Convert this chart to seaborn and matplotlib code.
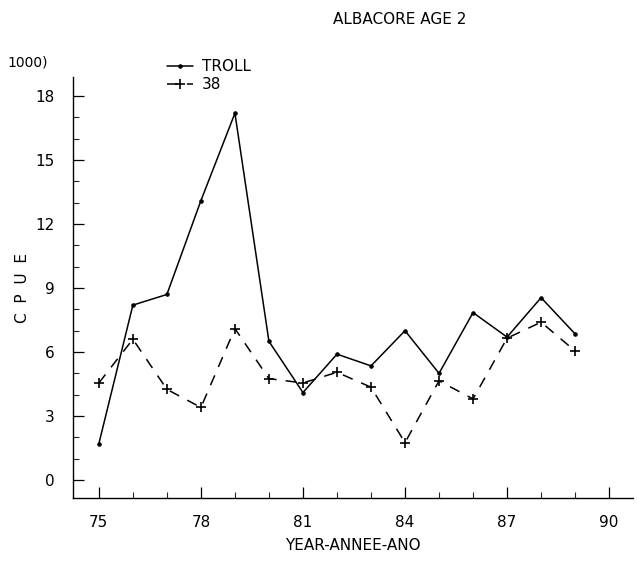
import matplotlib
matplotlib.use("Agg")
import matplotlib.pyplot as plt
import pandas as pd
import seaborn as sns
from matplotlib.ticker import MultipleLocator

years = [75, 76, 77, 78, 79, 80, 81, 82, 83, 84, 85, 86, 87, 88, 89]
troll = [1.7, 8.2, 8.7, 13.1, 17.2, 6.5, 4.1, 5.9, 5.35, 7.0, 5.0, 7.85, 6.7, 8.55, 6.85]
gear38 = [4.55, 6.6, 4.25, 3.4, 7.1, 4.75, 4.55, 5.05, 4.35, 1.75, 4.65, 3.8, 6.65, 7.4, 6.05]
x_ticks = [75, 78, 81, 84, 87, 90]
y_ticks = [0, 3, 6, 9, 12, 15, 18]

df = pd.DataFrame({"year": years, "TROLL": troll, "38": gear38})

sns.set_theme(style="white")
plt.rcParams["font.family"] = ["DejaVu Sans"]
plt.rcParams["text.color"] = "black"
plt.rcParams["axes.labelcolor"] = "black"

fig = plt.figure(figsize=(6.37, 5.66), dpi=100)
ax = fig.add_axes([0.1146, 0.120, 0.879, 0.744])

sns.lineplot(data=df, x="year", y="TROLL", ax=ax, color="black", linewidth=1.1,
             marker="o", markersize=2.5, markeredgecolor="black",
             markerfacecolor="black", label="TROLL")
sns.lineplot(data=df, x="year", y="38", ax=ax, color="black", linewidth=1.1,
             linestyle=(0, (7, 6)), marker="+", markersize=6.5, markeredgewidth=1.2,
             markeredgecolor="black", label="38")

ax.set_xlim(74.24, 90.7)
ax.set_ylim(-0.85, 18.9)
ax.set_xticks(x_ticks)
ax.set_yticks(y_ticks)
ax.xaxis.set_minor_locator(MultipleLocator(1))
ax.yaxis.set_minor_locator(MultipleLocator(1))
ax.tick_params(axis="both", which="major", direction="in", length=8, width=0.9,
               labelsize=11, colors="black")
ax.tick_params(axis="both", which="minor", direction="in", length=4, width=0.8)
ax.tick_params(axis="both", which="both", bottom=True, left=True)
ax.tick_params(axis="x", pad=12)
ax.tick_params(axis="y", pad=13)

for side in ["top", "right"]:
    ax.spines[side].set_visible(False)
for side in ["left", "bottom"]:
    ax.spines[side].set_color("black")
    ax.spines[side].set_linewidth(1.0)

ax.set_xlabel("YEAR-ANNEE-ANO", fontsize=11, labelpad=6)
ax.set_ylabel("C  P  U  E", fontsize=11, labelpad=4)
fig.text(0.628, 0.965, "ALBACORE AGE 2", ha="center", va="center", fontsize=11)
fig.text(0.012, 0.89, "1000)", ha="left", va="center", fontsize=10)

ax.legend_.remove()
handles, labels = ax.get_legend_handles_labels()
fig.legend(handles, labels, loc="upper left", bbox_to_anchor=(0.24, 0.92),
           frameon=False, fontsize=11, handlelength=1.7, handletextpad=0.6,
           labelspacing=0.2)

fig.savefig("out.png", dpi=100)
